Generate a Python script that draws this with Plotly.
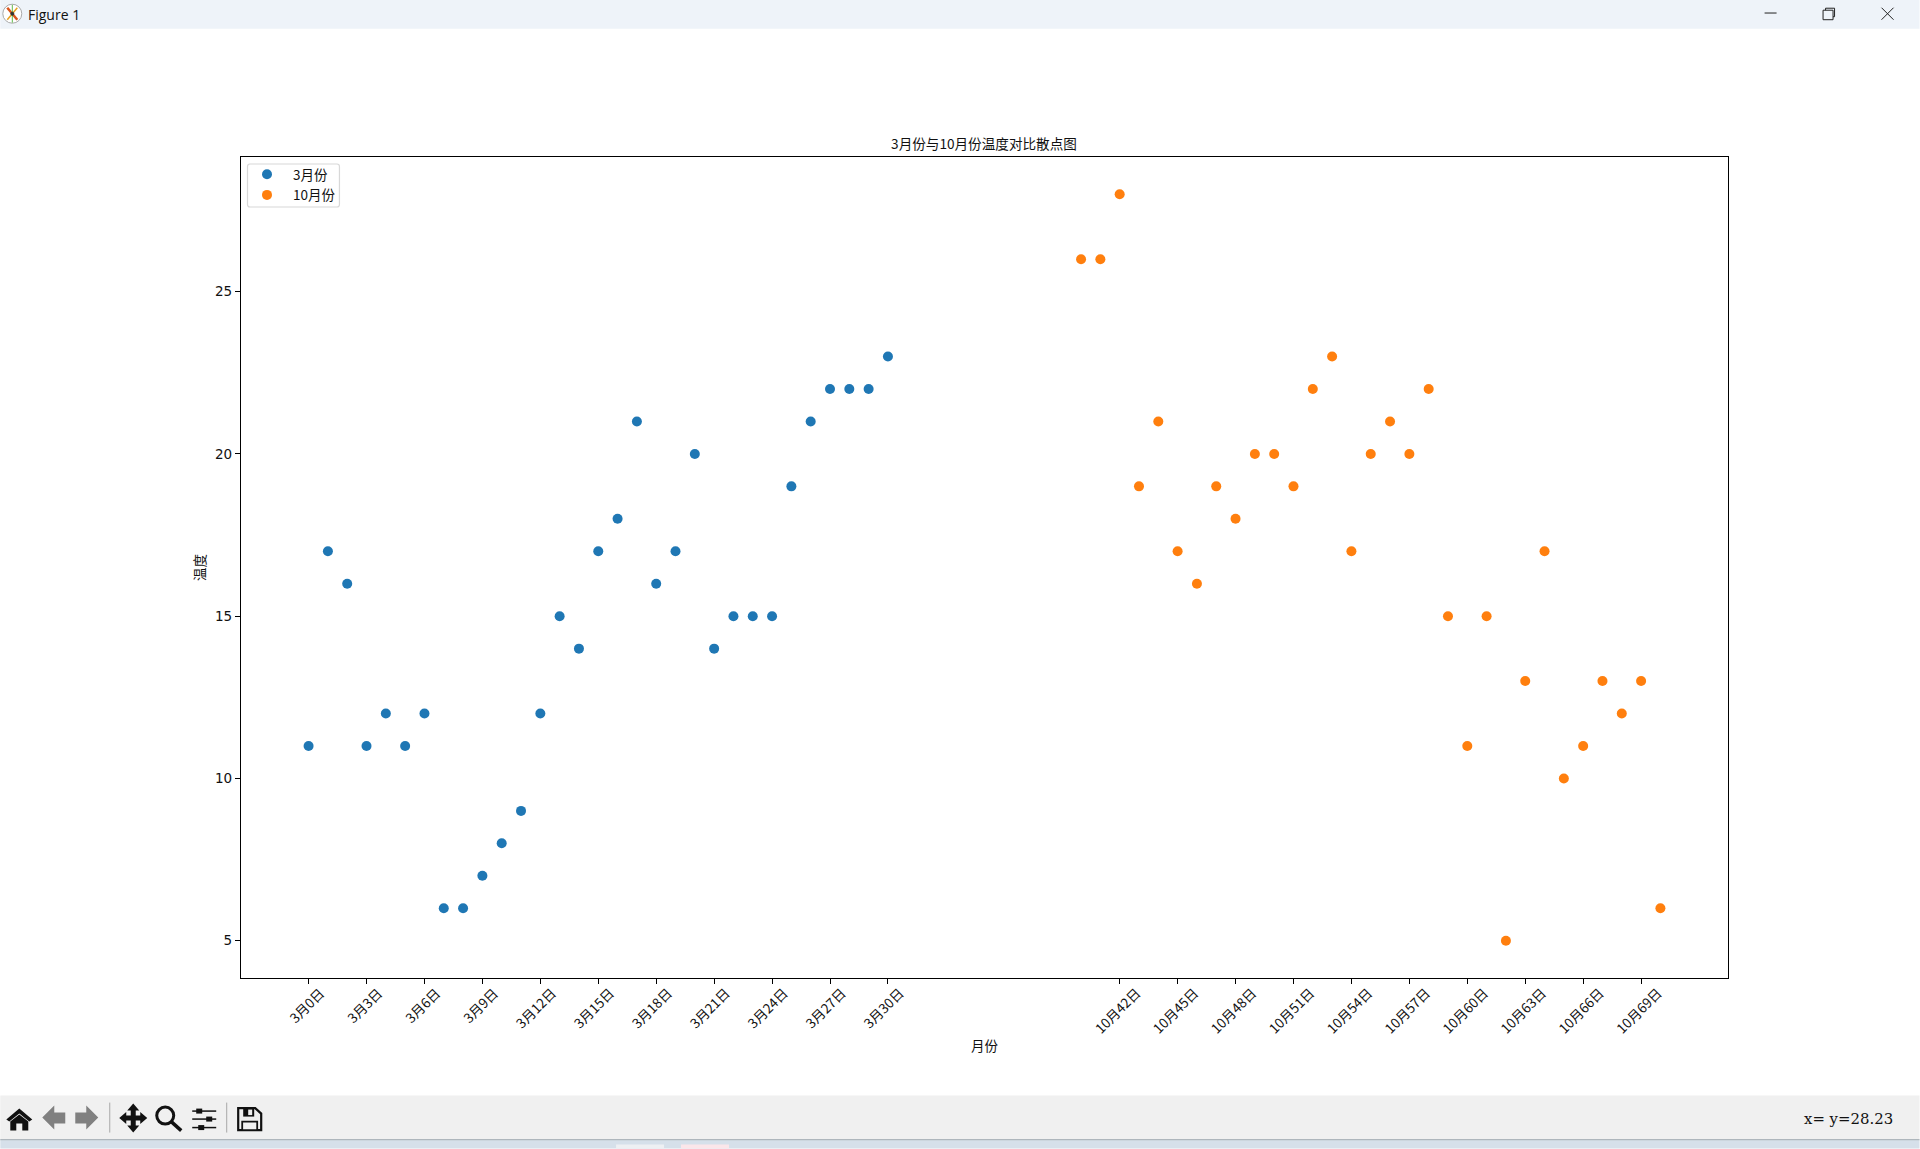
import plotly.graph_objects as go

W, H = 1920, 1149
L, R, T, B = 240.8, 1728.4, 157.3, 978.4

days_march = list(range(0, 31))
temps_march = [11, 17, 16, 11, 12, 11, 12, 6, 6, 7, 8, 9, 12, 15, 14, 17, 18, 21, 16, 17, 20, 14, 15, 15, 15, 19, 21, 22, 22, 22, 23]
days_october = list(range(40, 71))
temps_october = [26, 26, 28, 19, 21, 17, 16, 19, 18, 20, 20, 19, 22, 23, 17, 20, 21, 20, 22, 15, 11, 15, 5, 13, 17, 10, 11, 13, 12, 13, 6]
march_ticks = [0, 3, 6, 9, 12, 15, 18, 21, 24, 27, 30]
march_labels = ["3月0日", "3月3日", "3月6日", "3月9日", "3月12日", "3月15日", "3月18日", "3月21日", "3月24日", "3月27日", "3月30日"]
october_ticks = [42, 45, 48, 51, 54, 57, 60, 63, 66, 69]
october_labels = ["10月42日", "10月45日", "10月48日", "10月51日", "10月54日", "10月57日", "10月60日", "10月63日", "10月66日", "10月69日"]
y_ticks = [5, 10, 15, 20, 25]
CJK = "Noto Sans CJK SC"
INK = "#111111"

fig = go.Figure()
fig.add_trace(go.Scatter(x=days_march, y=temps_march, mode="markers", name="3月份",
                         marker=dict(color="#1f77b4", size=10)))
fig.add_trace(go.Scatter(x=days_october, y=temps_october, mode="markers", name="10月份", xaxis="x2",
                         marker=dict(color="#ff7f0e", size=10)))


def px(x, y):
    # paper coordinates are relative to the plot area
    return (x - L) / (R - L), (B - y) / (B - T)


def rect(x0, y0, x1, y1, fill, line=None, lw=0):
    a, b = px(x0, y0)
    c, d = px(x1, y1)
    return dict(type="rect", xref="paper", yref="paper", x0=a, y0=b, x1=c, y1=d,
                fillcolor=fill, line=dict(color=line or fill, width=lw), layer="above")


def poly(pts, fill=None, line=None, lw=0, close=True):
    p = []
    for i, (x, y) in enumerate(pts):
        a, b = px(x, y)
        p.append(("M" if i == 0 else "L") + f"{a:.5f},{b:.5f}")
    s = " ".join(p) + (" Z" if close else "")
    d = dict(type="path", xref="paper", yref="paper", path=s, layer="above",
             line=dict(color=line or "rgba(0,0,0,0)", width=lw))
    if fill:
        d["fillcolor"] = fill
    return d


def circle(cx, cy, r, fill="rgba(0,0,0,0)", line="#000", lw=1):
    a, b = px(cx - r, cy - r)
    c, d = px(cx + r, cy + r)
    return dict(type="circle", xref="paper", yref="paper", x0=a, y0=d, x1=c, y1=b,
                fillcolor=fill, line=dict(color=line, width=lw), layer="above")


def seg(x0, y0, x1, y1, color="#000", lw=1):
    return poly([(x0, y0), (x1, y1)], line=color, lw=lw, close=False)


def rounded_box(x0, y0, x1, y1, r, fill, line, lw):
    a0, b0 = px(x0, y0)
    a1, b1 = px(x1, y1)
    ax, ay = r / (R - L), r / (B - T)
    s = (f"M{a0 + ax:.5f},{b0:.5f} L{a1 - ax:.5f},{b0:.5f} Q{a1:.5f},{b0:.5f} {a1:.5f},{b0 - ay:.5f} "
         f"L{a1:.5f},{b1 + ay:.5f} Q{a1:.5f},{b1:.5f} {a1 - ax:.5f},{b1:.5f} "
         f"L{a0 + ax:.5f},{b1:.5f} Q{a0:.5f},{b1:.5f} {a0:.5f},{b1 + ay:.5f} "
         f"L{a0:.5f},{b0 - ay:.5f} Q{a0:.5f},{b0:.5f} {a0 + ax:.5f},{b0:.5f} Z")
    return dict(type="path", xref="paper", yref="paper", path=s, layer="above",
                fillcolor=fill, line=dict(color=line, width=lw))


dark = "#111111"
grey = "#808080"
shapes = [
    # legend frame
    rounded_box(247.3, 164.3, 339.3, 207.3, 2.5, "white", "#d8d8d8", 1.2),
    # window chrome
    rect(0, 0, W, 29, "#eef3f9"),
    rect(0, 1096, W, 1140, "#f0f0f0"),
    rect(0, 1140, W, H, "#d6e0ea"),
    rect(0, 1139.5, W, 1140.7, "#aeb6bc"),
    rect(616, 1145, 664, H, "#eef0f3"),
    rect(681, 1145, 729, H, "#fbe6ea"),
    # app icon
    circle(12, 14, 9.5, fill="#ffffff", line="#aaaaaa", lw=1),
    seg(7, 8, 17, 20, "#d9541e", 2.5),
    seg(17, 8, 7, 20, "#e8a020", 1.5),
    seg(12, 5, 12, 23, "#5fb84a", 1),
    circle(12, 14, 1.5, fill="#333333", line="#333333", lw=1),
    # window buttons
    seg(1765, 13.3, 1777, 13.3, "#222222", 1),
    rect(1823.5, 10.5, 1833.5, 20, "rgba(0,0,0,0)", "#222222", 1),
    poly([(1826, 10.5), (1826, 8.5), (1835, 8.5), (1835, 17), (1833.5, 17)], line="#222222", lw=1, close=False),
    seg(1882, 8, 1894, 20, "#222222", 1),
    seg(1894, 8, 1882, 20, "#222222", 1),
    # toolbar: home
    poly([(6, 1120), (19, 1109), (32, 1120), (29, 1122), (19, 1114), (9, 1122)], fill=dark),
    poly([(10, 1122), (19, 1115), (28, 1122), (28, 1131), (22, 1131), (22, 1124), (16, 1124), (16, 1131), (10, 1131)], fill=dark),
    # back / forward
    poly([(42, 1118), (54, 1106), (54, 1113), (65, 1113), (65, 1124), (54, 1124), (54, 1130)], fill=grey),
    poly([(98, 1118), (86, 1106), (86, 1113), (75, 1113), (75, 1124), (86, 1124), (86, 1130)], fill=grey),
    # separators
    seg(109.5, 1103, 109.5, 1133, "#a8a8a8", 1),
    seg(226.5, 1103, 226.5, 1133, "#a8a8a8", 1),
    # pan
    poly([(133, 1104), (139, 1111), (135.5, 1111), (135.5, 1116), (140, 1116), (140, 1112.5), (147, 1118.5),
          (140, 1124.5), (140, 1121), (135.5, 1121), (135.5, 1126), (139, 1126), (133, 1133), (127, 1126),
          (130.5, 1126), (130.5, 1121), (126, 1121), (126, 1124.5), (119, 1118.5), (126, 1112.5), (126, 1116),
          (130.5, 1116), (130.5, 1111), (127, 1111)], fill=dark),
    # zoom
    circle(165, 1116, 8.5, line=dark, lw=3),
    seg(171, 1122, 181, 1131, dark, 3.5),
    # sliders
    seg(192, 1111.5, 216, 1111.5, dark, 1.5),
    rect(196, 1109, 202, 1114, dark),
    seg(192, 1119.5, 216, 1119.5, dark, 1.5),
    rect(206, 1117, 212, 1122, dark),
    seg(192, 1128, 216, 1128, dark, 1.5),
    rect(198, 1125.5, 204, 1130.5, dark),
    # save
    poly([(238, 1108.5), (255, 1108.5), (261, 1114), (261, 1130.5), (238, 1130.5)], line=dark, lw=2.2),
    rect(243, 1108.5, 254, 1117, dark),
    rect(248, 1110, 252, 1115.5, "#f0f0f0"),
    rect(242, 1122, 257, 1130.5, "#f0f0f0", dark, 1.8),
]


def label(text, x, y, font, size, color=INK, anchor="left"):
    a, b = px(x, y)
    return dict(text=text, xref="paper", yref="paper", x=a, y=b, showarrow=False, xanchor=anchor, yanchor="middle",
                font=dict(family=font, size=size, color=color))


annotations = [
    label("Figure 1", 26, 14.5, "Open Sans", 14),
    label("x= y=28.23", 1802, 1119, "DejaVu Serif", 14.9),
]

axis_common = dict(showline=True, mirror=True, linecolor="black", linewidth=1.2, ticks="outside",
                   ticklen=5, tickwidth=1, tickcolor="black", showgrid=False, zeroline=False, automargin=False)
tick_font = dict(family=CJK, size=13.5, color=INK)

fig.update_layout(
    width=W, height=H, autosize=False,
    paper_bgcolor="white", plot_bgcolor="white",
    margin=dict(l=L, r=W - R, t=T, b=H - B, pad=0),
    title=dict(text="3月份与10月份温度对比散点图", x=984 / W, xanchor="center", y=1 - 144 / H, yanchor="middle",
               font=dict(family=CJK, size=13.6, color=INK)),
    xaxis=dict(range=[-3.5, 73.5], tickmode="array", tickvals=march_ticks, ticktext=march_labels,
               tickangle=-45, ticklabelshift=12, ticklabelstandoff=-4, tickfont=tick_font,
               title=dict(text="月份", font=dict(family=CJK, size=13.5, color=INK), standoff=10),
               **axis_common),
    xaxis2=dict(range=[-3.5, 73.5], overlaying="x", anchor="y", side="bottom", tickmode="array",
                tickvals=october_ticks, ticktext=october_labels,
                tickangle=-45, ticklabelshift=17, ticklabelstandoff=-4, tickfont=tick_font,
                showline=False, ticks="outside", ticklen=5, tickwidth=1, tickcolor="black",
                showgrid=False, zeroline=False, automargin=False),
    yaxis=dict(range=[3.85, 29.15], tickmode="array", tickvals=y_ticks, ticktext=[str(v) for v in y_ticks],
               tickfont=dict(family="DejaVu Sans", size=13.5, color=INK),
               title=dict(text="温度", font=dict(family=CJK, size=13.5, color=INK), standoff=6),
               **axis_common),
    legend=dict(x=0.0, y=0.9975, xanchor="left", yanchor="top", bgcolor="rgba(0,0,0,0)", borderwidth=0,
                font=dict(family=CJK, size=13.5, color=INK), itemwidth=42, tracegroupgap=0, itemsizing="trace"),
    shapes=shapes, annotations=annotations,
)

fig.write_html("out.html", config={"displayModeBar": False},
               post_script="document.body.style.margin='0';document.documentElement.style.overflow='hidden';")
